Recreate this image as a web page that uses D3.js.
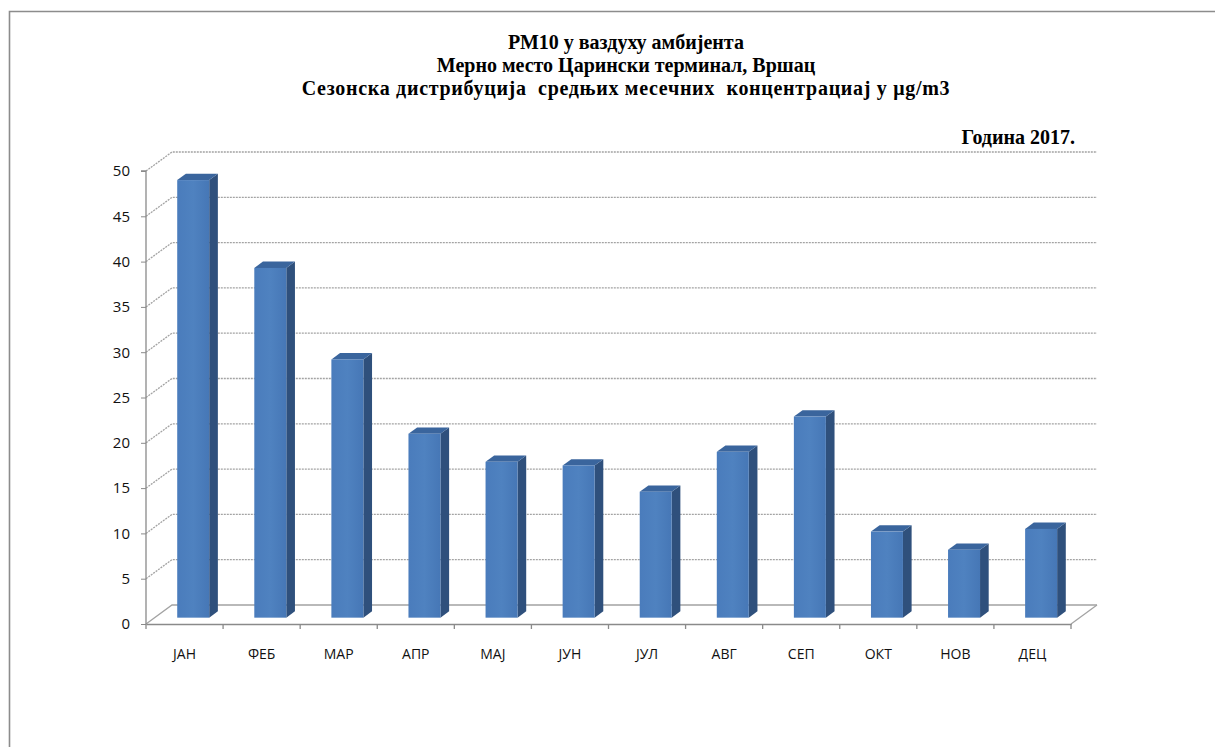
<!DOCTYPE html>
<html>
<head>
<meta charset="utf-8">
<script src="https://cdn.jsdelivr.net/npm/d3@7"></script>
<style>
  html, body { margin: 0; padding: 0; background: #fff; }
  svg { display: block; }
</style>
</head>
<body>
<svg id="chart" width="1215" height="747"></svg>
<script>
// Monthly mean PM10 concentrations, 2017
const months = ["ЈАН", "ФЕБ", "МАР", "АПР", "МАЈ", "ЈУН", "ЈУЛ", "АВГ", "СЕП", "ОКТ", "НОВ", "ДЕЦ"];
const pm10 = [48.3, 38.6, 28.5, 20.3, 17.2, 16.8, 13.9, 18.3, 22.2, 9.5, 7.5, 9.8];
const yTicks = [0, 5, 10, 15, 20, 25, 30, 35, 40, 45, 50];
const titleLines = [
  "РМ10 у ваздуху амбијента",
  "Мерно место Царински терминал, Вршац",
  "Сезонска дистрибуција  средњих месечних  концентрациај у μg/m3"
];
const yearLabel = "Година 2017.";

const svg = d3.select("#chart");

// outer frame
svg.append("path")
  .attr("d", "M9.5,747 L9.5,11.5 L1215,11.5")
  .attr("fill", "none")
  .attr("stroke", "#8c8c8c")
  .attr("stroke-width", 1.6);

// plot geometry (front plane + depth vector of the 3D box)
const x0 = 146, x1 = 1071;
const depth = { dx: 26, dy: -19 };

const x = d3.scaleBand().domain(months).range([x0, x1])
  .paddingInner(0.585).paddingOuter(0.2925);
const y = d3.scaleLinear().domain([0, 50]).range([624, 171]);

const grid = svg.append("g");
const gridColor = "#a3a3a3";

// back wall gridlines + left wall diagonals
yTicks.forEach(t => {
  const yy = y(t);
  grid.append("path")
    .attr("d", `M${x0},${yy} L${x0 + depth.dx},${yy + depth.dy} L${x1 + depth.dx},${yy + depth.dy}`)
    .attr("fill", "none")
    .attr("stroke", gridColor)
    .attr("stroke-width", 1.3)
    .attr("stroke-dasharray", t === 0 ? null : "2,1");
});

// floor: right edge diagonal
grid.append("line")
  .attr("x1", x1).attr("y1", y(0))
  .attr("x2", x1 + depth.dx).attr("y2", y(0) + depth.dy)
  .attr("stroke", gridColor).attr("stroke-width", 1.3);

// value axis
const yAxis = d3.axisLeft(y).tickValues(yTicks).tickSize(5).tickPadding(11);
const yg = svg.append("g").attr("transform", `translate(${x0},0)`).call(yAxis);
yg.select(".domain").attr("stroke", "#8a8a8a").attr("stroke-width", 1.3).attr("d", `M-5,${y(50)}H0V${y(0)}`);
yg.selectAll(".tick line").attr("stroke", "#8a8a8a");
yg.selectAll(".tick text")
  .attr("font-family", "'Open Sans', 'Liberation Sans', sans-serif")
  .attr("font-size", 15).attr("fill", "#111");

// category axis along the front floor edge
const xAxis = d3.axisBottom(x).tickSize(0).tickPadding(25);
const xg = svg.append("g").attr("transform", `translate(0,${y(0)})`).call(xAxis);
xg.select(".domain").attr("stroke", "#8a8a8a").attr("stroke-width", 1.3);
xg.selectAll(".tick text")
  .attr("font-family", "'Open Sans', 'Liberation Sans', sans-serif")
  .attr("font-size", 14).attr("fill", "#111");
// tick marks at category boundaries
const step = x.step();
d3.range(months.length + 1).forEach(i => {
  const bx = x0 + i * step;
  xg.append("line").attr("x1", bx).attr("x2", bx).attr("y1", 0).attr("y2", 5)
    .attr("stroke", "#8a8a8a").attr("stroke-width", 1.3);
});

// 3D columns: front face sits at 1/3 of the depth, back face at 2/3
const fdx = depth.dx / 3, fdy = depth.dy / 3;
const bdx = depth.dx / 3, bdy = depth.dy / 3;
const bw = x.bandwidth();

const defs = svg.append("defs");
const grad = defs.append("linearGradient").attr("id", "frontGrad")
  .attr("x1", "0").attr("x2", "1").attr("y1", "0").attr("y2", "0");
grad.append("stop").attr("offset", "0").attr("stop-color", "#4a7cbc");
grad.append("stop").attr("offset", "0.5").attr("stop-color", "#4f82c0");
grad.append("stop").attr("offset", "1").attr("stop-color", "#4677b6");

const bars = svg.append("g").selectAll("g").data(months.map((m, i) => ({ m, v: pm10[i] })))
  .join("g");

bars.each(function(d) {
  const g = d3.select(this);
  const left = x(d.m) + fdx;
  const right = left + bw;
  const top = y(d.v) + fdy;
  const bottom = y(0) + fdy;
  // side face
  g.append("path")
    .attr("d", `M${right},${top} L${right + bdx},${top + bdy} L${right + bdx},${bottom + bdy} L${right},${bottom} Z`)
    .attr("fill", "#2f507c");
  // top face
  g.append("path")
    .attr("d", `M${left},${top} L${left + bdx},${top + bdy} L${right + bdx},${top + bdy} L${right},${top} Z`)
    .attr("fill", "#3a659d");
  // front face
  g.append("rect")
    .attr("x", left).attr("y", top)
    .attr("width", bw).attr("height", bottom - top)
    .attr("fill", "url(#frontGrad)");
});

// titles
const title = svg.append("g")
  .attr("font-family", "'Liberation Serif', 'Times New Roman', serif")
  .attr("font-weight", "bold")
  .attr("font-size", 20)
  .attr("fill", "#000")
  .attr("text-anchor", "middle");
titleLines.forEach((t, i) => {
  title.append("text")
    .attr("x", 626).attr("y", 49 + i * 23)
    .attr("xml:space", "preserve")
    .attr("letter-spacing", i === 2 ? 0.7 : 0)
    .style("white-space", "pre")
    .text(t);
});

svg.append("text")
  .attr("x", 1075).attr("y", 144)
  .attr("text-anchor", "end")
  .attr("font-family", "'Liberation Serif', 'Times New Roman', serif")
  .attr("font-weight", "bold")
  .attr("font-size", 20)
  .text(yearLabel);
</script>
</body>
</html>
